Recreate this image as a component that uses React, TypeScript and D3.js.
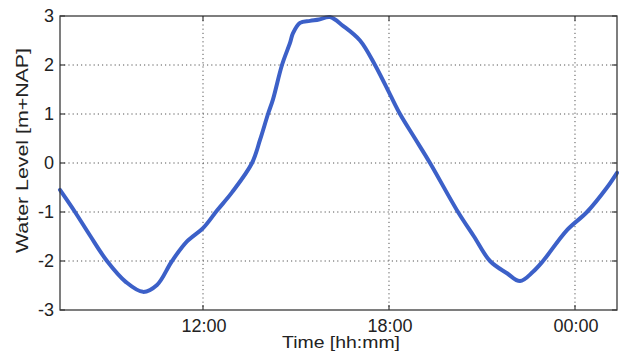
import React from "react";
import * as d3 from "d3";

// time in hours (24+ = next day), water level in m+NAP
const hours = [
  7.387, 7.871, 8.355, 8.903, 9.516, 10.065, 10.516, 11.0,
  11.484, 12.0, 12.452, 12.935, 13.581, 13.839, 14.097, 14.258, 14.548,
  14.806, 14.903, 15.129, 15.452, 15.742, 16.097, 16.516, 17.065, 17.548,
  18.032, 18.355, 18.839, 19.323, 20.226, 20.742, 21.258, 21.806, 22.226,
  22.645, 22.968, 23.742, 24.387, 25.032, 25.355,
];
const levels = [
  -0.55, -1.0, -1.48, -2.0, -2.43, -2.63, -2.49, -2.0,
  -1.6, -1.33, -0.97, -0.6, 0.0, 0.47, 1.0, 1.3, 2.0,
  2.45, 2.65, 2.86, 2.9, 2.93, 2.98, 2.8, 2.5, 2.0,
  1.4, 1.0, 0.5, 0.0, -1.0, -1.5, -2.0, -2.25, -2.41,
  -2.22, -2.0, -1.37, -1.0, -0.5, -0.2,
];
const xTickHours = [12, 18, 24];
const xTickLabels = ["12:00", "18:00", "00:00"];
const yTicks = [-3, -2, -1, 0, 1, 2, 3];
const xDomain = [7.387, 25.355];
const yDomain = [-3, 3];

export default function App() {
  const W = 620, H = 355;
  const L = 60, R = 617, T = 16, B = 310;
  const x = d3.scaleLinear().domain(xDomain).range([L, R]);
  const y = d3.scaleLinear().domain(yDomain).range([B, T]);
  const data = hours.map((h, i) => [h, levels[i]] as [number, number]);
  const line = d3
    .line<[number, number]>()
    .x((d) => x(d[0]))
    .y((d) => y(d[1]))
    .curve(d3.curveCatmullRom.alpha(0.5));
  const font = "Liberation Sans, Arial, sans-serif";
  const frame = "#3a3a3a";
  const grid = "#555";
  return (
    <svg
      width={W}
      height={H}
      style={{ position: "absolute", left: 0, top: 0, background: "#fff" }}
      fontFamily={font}
    >
      <rect x={0} y={0} width={W} height={H} fill="#fff" />
      {/* grid */}
      {yTicks.slice(1, -1).map((t) => (
        <line
          key={"gy" + t}
          x1={L}
          x2={R}
          y1={y(t)}
          y2={y(t)}
          stroke={grid}
          strokeWidth={1}
          strokeDasharray="1.2,3"
        />
      ))}
      {xTickHours.map((t) => (
        <line
          key={"gx" + t}
          x1={x(t)}
          x2={x(t)}
          y1={T}
          y2={B}
          stroke={grid}
          strokeWidth={1}
          strokeDasharray="1.2,3"
        />
      ))}
      {/* data line */}
      <path d={line(data) || ""} fill="none" stroke="#3c60c8" strokeWidth={4} strokeLinejoin="round" strokeLinecap="round" />
      {/* frame */}
      <rect x={L} y={T} width={R - L} height={B - T} fill="none" stroke={frame} strokeWidth={1.3} />
      {/* ticks */}
      {yTicks.map((t) => (
        <g key={"ty" + t}>
          <line x1={L} x2={L + 5} y1={y(t)} y2={y(t)} stroke={frame} strokeWidth={1.2} />
          <line x1={R} x2={R - 5} y1={y(t)} y2={y(t)} stroke={frame} strokeWidth={1.2} />
          <text x={54} y={y(t)} dy="0.36em" textAnchor="end" fontSize={18} fill="#222">
            {t < 0 ? "-" + Math.abs(t) : String(t)}
          </text>
        </g>
      ))}
      {xTickHours.map((t, i) => (
        <g key={"tx" + t}>
          <line x1={x(t)} x2={x(t)} y1={B} y2={B - 5} stroke={frame} strokeWidth={1.2} />
          <line x1={x(t)} x2={x(t)} y1={T} y2={T + 5} stroke={frame} strokeWidth={1.2} />
          <text x={x(t) + 1} y={332} textAnchor="middle" fontSize={18} fill="#222">
            {xTickLabels[i]}
          </text>
        </g>
      ))}
      {/* axis labels */}
      <text
        x={341}
        y={348}
        textAnchor="middle"
        fontSize={17}
        fill="#222"
        textLength={118}
        lengthAdjust="spacingAndGlyphs"
      >
        Time [hh:mm]
      </text>
      <text
        transform={`translate(28,150.5) rotate(-90)`}
        textAnchor="middle"
        fontSize={17}
        fill="#222"
        textLength={205}
        lengthAdjust="spacingAndGlyphs"
      >
        Water Level [m+NAP]
      </text>
    </svg>
  );
}
